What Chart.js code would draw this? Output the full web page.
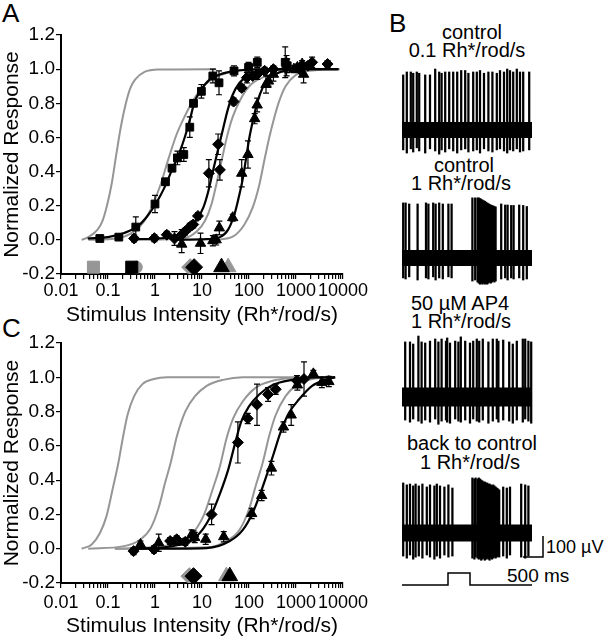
<!DOCTYPE html>
<html>
<head>
<meta charset="utf-8">
<script src="https://cdn.jsdelivr.net/npm/chart.js@4.4.1/dist/chart.umd.min.js"></script>
<style>
html, body { margin: 0; padding: 0; background: #fff; }
body { width: 605px; height: 639px; position: relative; overflow: hidden; font-family: 'Liberation Sans', Arial, sans-serif; color: #000; }
canvas { position: absolute; }
.t { position: absolute; font-size: 20px; line-height: 1; white-space: nowrap; transform: translate(-50%, -50%); }
.l { position: absolute; line-height: 1; white-space: nowrap; }
.lbl { position: absolute; font-size: 26px; line-height: 1; }
</style>
</head>
<body>
<div class="lbl" style="left:2px;top:0px">A</div>
<div class="lbl" style="left:389px;top:10px">B</div>
<div class="lbl" style="left:2px;top:315px">C</div>

<div class="t" style="left:472px;top:32px">control</div>
<div class="t" style="left:467px;top:50px">0.1 Rh*/rod/s</div>
<div class="t" style="left:464px;top:165px">control</div>
<div class="t" style="left:461px;top:183px">1 Rh*/rod/s</div>
<div class="t" style="left:460px;top:303px">50 µM AP4</div>
<div class="t" style="left:461px;top:321px">1 Rh*/rod/s</div>
<div class="t" style="left:472px;top:443px">back to control</div>
<div class="t" style="left:470px;top:462px">1 Rh*/rod/s</div>
<div class="l" style="left:546px;top:538px;font-size:18px">100 µV</div>
<div class="l" style="left:507px;top:566px;font-size:19px">500 ms</div>

<canvas id="chartA" width="380" height="330" style="left:0;top:0"></canvas>
<canvas id="chartC" width="380" height="319" style="left:0;top:320px"></canvas>
<canvas id="trace1" width="213" height="100" style="left:392px;top:60px"></canvas>
<canvas id="trace2" width="213" height="100" style="left:392px;top:188px"></canvas>
<canvas id="trace3" width="213" height="100" style="left:392px;top:327px"></canvas>
<canvas id="trace4" width="213" height="100" style="left:392px;top:463px"></canvas>
<canvas id="stim" width="213" height="25" style="left:392px;top:565px"></canvas>

<script>
// axis labels
const xTickLabels = ['0.01', '0.1', '1', '10', '100', '1000', '10000'];
const yTickLabels = ['-0.2', '0.0', '0.2', '0.4', '0.6', '0.8', '1.0', '1.2'];

// ---- panel A : data points (mean, error) ----
const aSqX = [0.067, 0.17, 0.39, 1.0, 1.67, 2.3, 3.0, 4.1, 5.5, 6.6, 9.7, 17, 23, 48, 98, 150, 590, 650];
const aSqY = [0.008, 0.016, 0.075, 0.21, 0.34, 0.42, 0.48, 0.50, 0.66, 0.80, 0.87, 0.96, 0.92, 0.99, 1.01, 1.04, 1.04, 1.02];
const aSqErr = [0.01, 0.01, 0.06, 0.05, 0.02, 0.02, 0.04, 0.04, 0.06, 0.02, 0.04, 0.04, 0.07, 0.03, 0.03, 0.03, 0.09, 0.04];

const aDmX = [0.36, 0.97, 1.78, 2.6, 3.7, 4.3, 5.5, 6.5, 8.2, 14, 22, 24, 47, 70, 90, 120, 150, 215, 330, 1200, 1800, 2200, 4700];
const aDmY = [0.008, 0.01, 0.03, 0.008, 0.03, 0.047, 0.076, 0.09, 0.14, 0.39, 0.56, 0.41, 0.81, 0.89, 0.95, 0.96, 0.97, 0.99, 1.0, 1.0, 1.02, 1.04, 1.03];
const aDmErr = [0.02, 0.02, 0.02, 0.04, 0.03, 0.02, 0.02, 0.02, 0.02, 0.08, 0.06, 0.06, 0.02, 0.02, 0.03, 0.02, 0.03, 0.02, 0.02, 0.02, 0.02, 0.03, 0.02];

const aTrX = [3.7, 9.3, 17, 20, 23.4, 45, 70, 95, 132, 149, 230, 260, 330, 630, 900, 1070, 1350, 1450];
const aTrY = [-0.025, -0.02, -0.005, 0.0, 0.07, 0.13, 0.39, 0.50, 0.71, 0.79, 0.91, 0.93, 0.97, 1.02, 1.0, 1.01, 1.03, 0.97];
const aTrErr = [0.05, 0.06, 0.03, 0.03, 0.04, 0.02, 0.08, 0.08, 0.03, 0.04, 0.05, 0.03, 0.04, 0.06, 0.02, 0.02, 0.02, 0.05];

// ---- panel A : fitted curves ----
const aGray1X = [0.0275, 0.038, 0.060, 0.076, 0.095, 0.12, 0.15, 0.19, 0.24, 0.30, 0.38, 0.6, 1.2, 20];
const aGray1Y = [0.0, 0.016, 0.06, 0.11, 0.20, 0.33, 0.5, 0.67, 0.80, 0.89, 0.94, 0.984, 0.998, 1.0];
const aGray2X = [0.038, 0.16, 0.36, 0.59, 0.88, 1.3, 1.96, 2.9, 4.4, 6.6, 10.7, 20, 46, 140];
const aGray2Y = [0, 0.01, 0.05, 0.11, 0.20, 0.32, 0.48, 0.62, 0.73, 0.82, 0.90, 0.955, 0.985, 1.0];
const aGray3X = [0.36, 4.1, 7.8, 11.5, 16, 20, 26, 33, 45, 68, 110, 210, 510, 1860];
const aGray3Y = [0, 0.01, 0.05, 0.11, 0.21, 0.32, 0.46, 0.59, 0.72, 0.83, 0.91, 0.955, 0.985, 1.0];
const aGray4X = [20, 46, 80, 120, 165, 210, 270, 340, 435, 600, 980, 1860, 8500];
const aGray4Y = [0, 0.02, 0.09, 0.19, 0.32, 0.46, 0.60, 0.71, 0.81, 0.90, 0.965, 0.99, 1.0];
const aFitSqX = [0.037, 0.1, 0.22, 0.43, 0.69, 1.03, 1.55, 2.3, 3.2, 4.4, 5.6, 6.8, 9.1, 14.7, 28, 74, 1000];
const aFitSqY = [0.008, 0.016, 0.04, 0.08, 0.14, 0.21, 0.30, 0.41, 0.50, 0.61, 0.71, 0.80, 0.87, 0.94, 0.975, 0.995, 1.0];
const aFitDmX = [0.36, 1.1, 2.5, 4.8, 7.8, 10.7, 13.5, 17, 22, 28, 36, 45, 63, 100, 230, 700, 8000];
const aFitDmY = [0.004, 0.008, 0.02, 0.06, 0.12, 0.19, 0.28, 0.40, 0.53, 0.65, 0.77, 0.85, 0.92, 0.965, 0.99, 1.0, 1.0];
const aFitTrX = [2.5, 12.6, 24, 36, 49, 60, 74, 87, 102, 124, 152, 194, 270, 435, 980, 8000];
const aFitTrY = [0, 0.004, 0.016, 0.06, 0.15, 0.245, 0.36, 0.48, 0.60, 0.71, 0.81, 0.89, 0.945, 0.98, 1.0, 1.0];

// ---- panel C : data points ----
const cDmX = [0.35, 0.95, 2.1, 2.9, 4.4, 6.6, 16, 58, 94, 148, 255, 370, 1050, 1480];
const cDmY = [-0.014, -0.004, 0.045, 0.055, 0.04, 0.074, 0.20, 0.62, 0.76, 0.84, 0.90, 0.93, 0.98, 0.99];
const cDmErr = [0.02, 0.02, 0.02, 0.02, 0.02, 0.03, 0.06, 0.12, 0.03, 0.12, 0.04, 0.03, 0.03, 0.1];

const cTrX = [0.49, 1.2, 3.0, 6.0, 7.0, 12, 29, 114, 186, 300, 540, 790, 1070, 2340, 3550, 5000];
const cTrY = [0.025, 0.035, 0.04, 0.08, 0.065, 0.055, 0.07, 0.205, 0.31, 0.47, 0.71, 0.78, 0.955, 1.02, 0.97, 0.975];
const cTrErr = [0.02, 0.05, 0.02, 0.03, 0.03, 0.03, 0.03, 0.03, 0.03, 0.04, 0.03, 0.06, 0.03, 0.02, 0.03, 0.03];

// ---- panel C : curves ----
const cGray1X = [0.0275, 0.045, 0.067, 0.093, 0.126, 0.166, 0.205, 0.26, 0.36, 0.54, 0.95, 1.8, 24];
const cGray1Y = [0, 0.025, 0.09, 0.19, 0.35, 0.5, 0.64, 0.78, 0.89, 0.96, 0.99, 1.0, 1.0];
const cGray2X = [0.038, 0.22, 0.5, 0.81, 1.2, 1.66, 2.15, 2.95, 4.4, 7.1, 12.6, 28, 74, 6800];
const cGray2Y = [0, 0.015, 0.055, 0.12, 0.24, 0.39, 0.5, 0.66, 0.80, 0.89, 0.95, 0.985, 1.0, 1.0];
const cGray3X = [0.14, 2.5, 5.6, 10.7, 17, 24, 33, 46, 74, 140, 320, 980];
const cGray3Y = [0, 0.025, 0.074, 0.19, 0.35, 0.48, 0.64, 0.76, 0.86, 0.94, 0.98, 1.0];
const cGray4X = [0.14, 12.6, 33, 63, 100, 140, 195, 270, 370, 600, 980, 2200, 6800];
const cGray4Y = [0, 0.008, 0.045, 0.11, 0.23, 0.37, 0.50, 0.66, 0.78, 0.89, 0.95, 0.99, 1.0];
const cFitDmX = [0.36, 2.5, 7.8, 14.7, 24, 36, 49, 68, 100, 165, 320, 830, 2600, 6800];
const cFitDmY = [0, 0.016, 0.074, 0.18, 0.32, 0.46, 0.60, 0.74, 0.83, 0.90, 0.955, 0.985, 1.0, 1.0];
const cFitTrX = [0.36, 12.6, 39, 74, 120, 178, 245, 340, 470, 700, 1150, 2200, 4200, 6800];
const cFitTrY = [0, 0.004, 0.045, 0.11, 0.21, 0.33, 0.44, 0.56, 0.68, 0.79, 0.87, 0.95, 0.985, 1.0];

// ---- sensitivity markers along the bottom (x positions) ----
const markY = -0.16;
const aMarks = { graySq: 0.049, blackSq: 0.32, grayDot: 0.40, grayDm: 5.6, blackDm: 6.8, blackTr: 26, grayTr: 36 };
const cMarks = { grayDm: 5.4, blackDm: 6.6, grayTr: 33, blackTr: 39 };

// ---- panel B : spike recordings (time s, peak/trough µV) ----
const traceEnd = 3.25;
const t1Times = [0.03,0.12,0.22,0.28,0.37,0.43,0.58,0.70,0.83,0.93,0.99,1.08,1.18,1.28,1.38,1.48,1.58,1.66,1.78,1.87,1.95,2.05,2.16,2.26,2.37,2.45,2.55,2.63,2.70,2.78,2.87,2.95,3.03,3.18];
const t1Tops = [262,276,276,270,276,270,262,262,290,276,270,276,276,276,276,283,283,270,276,276,283,270,276,276,270,283,276,290,283,276,290,276,276,276];
const t1Lows = [-95,-110,-90,-105,-85,-100,-110,-90,-100,-115,-95,-105,-90,-100,-110,-95,-90,-105,-100,-95,-110,-90,-100,-105,-95,-90,-100,-110,-95,-100,-90,-105,-100,-95];

const t2Times = [0.03,0.09,0.18,0.39,0.60,0.66,0.78,0.84,0.93,1.02,1.16,1.24,1.76,1.83,1.89,1.92,1.95,1.98,2.01,2.04,2.07,2.10,2.13,2.16,2.19,2.22,2.25,2.28,2.31,2.34,2.48,2.58,2.64,2.73,2.79,2.93,3.03,3.12];
const t2Tops = [262,262,257,257,262,257,262,257,262,257,257,257,286,286,286,286,283,280,276,273,270,266,262,259,255,252,250,248,245,243,257,252,252,250,250,252,250,245];
const t2Lows = [-95,-100,-90,-105,-95,-100,-90,-105,-95,-100,-90,-95,-110,-105,-115,-120,-125,-120,-125,-120,-125,-120,-125,-120,-115,-120,-115,-110,-115,-110,-100,-95,-105,-95,-100,-95,-105,-100];

const t3Times = [0.08,0.20,0.28,0.41,0.49,0.58,0.70,0.83,0.91,0.99,1.10,1.13,1.20,1.33,1.41,1.47,1.58,1.70,1.78,1.87,1.93,2.02,2.16,2.27,2.37,2.41,2.53,2.68,2.77,2.87,3.02,3.08,3.16,3.23];
const t3Tops = [262,262,252,290,262,257,266,276,262,276,266,281,257,266,262,286,266,257,266,276,266,276,262,276,276,266,271,262,252,266,276,276,266,262];
const t3Lows = [-110,-120,-105,-115,-125,-110,-120,-105,-130,-115,-110,-120,-125,-105,-115,-120,-110,-125,-105,-115,-120,-110,-125,-115,-105,-120,-110,-115,-125,-110,-120,-105,-115,-125];

const t4Times = [0.03,0.12,0.20,0.28,0.34,0.42,0.51,0.62,0.70,0.81,0.87,0.95,1.06,1.16,1.26,1.76,1.81,1.84,1.89,1.92,1.95,1.98,2.01,2.04,2.07,2.10,2.13,2.16,2.19,2.22,2.25,2.28,2.31,2.34,2.37,2.40,2.43,2.53,2.62,2.70,2.98,3.08,3.16];
const t4Tops = [238,229,233,224,233,224,233,219,229,224,233,224,219,229,214,262,257,262,257,262,257,252,248,243,243,238,238,233,233,229,224,229,224,219,214,210,205,219,214,219,233,229,224];
const t4Lows = [-110,-120,-105,-125,-115,-110,-120,-105,-115,-125,-110,-120,-105,-115,-110,-120,-125,-115,-120,-125,-120,-130,-125,-120,-130,-125,-120,-125,-130,-120,-125,-120,-115,-120,-115,-110,-115,-110,-120,-105,-115,-120,-110];

// light stimulus (time s, on/off)
const stimT = [0, 1.15, 1.15, 1.7, 1.7, traceEnd];
const stimV = [0, 0, 1, 1, 0, 0];

// scale bars
const barUV = 100;
const barSec = 0.5;

const GRAY = '#969696';
Chart.defaults.font.family = "'Liberation Sans', Arial, sans-serif";
Chart.defaults.color = '#000';
Chart.defaults.animation = false;

function pts(xs, ys) {
    return xs.map((x, i) => ({ x: x, y: ys[i] }));
}

function fitLine(xs, ys, color, width) {
    return {
        data: pts(xs, ys), showLine: true, borderColor: color, borderWidth: width,
        pointRadius: 0, cubicInterpolationMode: 'monotone', order: 3
    };
}

function dataSet(xs, ys, errs, style, radius) {
    return {
        data: pts(xs, ys), showLine: false, pointStyle: style, pointRadius: radius,
        backgroundColor: '#000', borderColor: '#000', borderWidth: 1, errors: errs, order: 2
    };
}

function bottomMark(x, style, color, radius, order) {
    return {
        data: [{ x: x, y: markY }], showLine: false, pointStyle: style, pointRadius: radius,
        backgroundColor: color, borderColor: color, borderWidth: 1, order: order
    };
}

// draws the vertical error bars with caps
const errorBarPlugin = {
    id: 'errorBars',
    afterDatasetsDraw(chart) {
        const ctx = chart.ctx;
        const xs = chart.scales.x, ys = chart.scales.y;
        ctx.save();
        ctx.strokeStyle = '#000';
        ctx.lineWidth = 1.2;
        chart.data.datasets.forEach(ds => {
            if (!ds.errors) return;
            ds.data.forEach((p, i) => {
                const e = ds.errors[i];
                if (!e) return;
                const px = xs.getPixelForValue(p.x);
                const hi = ys.getPixelForValue(p.y + e);
                const lo = ys.getPixelForValue(p.y - e);
                ctx.beginPath();
                ctx.moveTo(px, hi); ctx.lineTo(px, lo);
                ctx.moveTo(px - 3, hi); ctx.lineTo(px + 3, hi);
                ctx.moveTo(px - 3, lo); ctx.lineTo(px + 3, lo);
                ctx.stroke();
            });
        });
        ctx.restore();
    }
};

function panelOptions(padTop, xHeight, xTickPad, titlePad) {
    return {
        responsive: false,
        layout: { autoPadding: false, padding: { top: padTop, right: 37, left: 0, bottom: 0 } },
        plugins: { legend: { display: false }, tooltip: { enabled: false } },
        scales: {
            x: {
                type: 'logarithmic', min: 0.01, max: 10000,
                afterBuildTicks: scale => {
                    const t = [];
                    for (let e = -2; e <= 4; e++) {
                        for (let m = 1; m <= 9; m++) {
                            const v = m * Math.pow(10, e);
                            if (v <= 10000.0001) t.push({ value: v });
                        }
                    }
                    scale.ticks = t;
                },
                afterFit: scale => {
                    scale.height = xHeight;
                    scale.paddingLeft = 0;
                    scale.paddingRight = 0;
                },
                ticks: {
                    autoSkip: false, maxRotation: 0, minRotation: 0, padding: xTickPad,
                    font: { size: 18 },
                    callback: v => {
                        const l = Math.log10(v);
                        return Math.abs(l - Math.round(l)) < 1e-6 ? xTickLabels[Math.round(l) + 2] : '';
                    }
                },
                grid: { drawOnChartArea: false, drawTicks: true, tickLength: 5, color: '#000', lineWidth: 1.2 },
                border: { display: true, color: '#000', width: 2 },
                title: { display: true, text: 'Stimulus Intensity (Rh*/rod/s)', font: { size: 21 }, padding: { top: 0, bottom: titlePad } }
            },
            y: {
                min: -0.2, max: 1.2,
                afterFit: scale => {
                    scale.width = 61;
                    scale.paddingTop = 0;
                    scale.paddingBottom = 0;
                },
                ticks: {
                    stepSize: 0.1, padding: 1, font: { size: 19 },
                    callback: v => {
                        const k = Math.round(v * 10);
                        return k % 2 === 0 ? yTickLabels[(k + 2) / 2] : '';
                    }
                },
                grid: { drawOnChartArea: false, drawTicks: true, tickLength: 5, color: '#000', lineWidth: 1.2 },
                border: { display: true, color: '#000', width: 2 },
                title: { display: true, text: 'Normalized Response', font: { size: 21 }, padding: { top: 0, bottom: 0 } }
            }
        }
    };
}

new Chart(document.getElementById('chartA'), {
    type: 'scatter',
    data: {
        datasets: [
            bottomMark(aMarks.blackSq, 'rect', '#000', 8.5, 0),
            bottomMark(aMarks.blackDm, 'rectRot', '#000', 8.5, 0),
            bottomMark(aMarks.blackTr, 'triangle', '#000', 9, 0),
            bottomMark(aMarks.graySq, 'rect', GRAY, 8.5, 1),
            bottomMark(aMarks.grayDot, 'circle', GRAY, 6, 1),
            bottomMark(aMarks.grayDm, 'rectRot', GRAY, 8.5, 1),
            bottomMark(aMarks.grayTr, 'triangle', GRAY, 9, 1),
            dataSet(aSqX, aSqY, aSqErr, 'rect', 5.5),
            dataSet(aDmX, aDmY, aDmErr, 'rectRot', 5.5),
            dataSet(aTrX, aTrY, aTrErr, 'triangle', 6),
            fitLine(aFitSqX, aFitSqY, '#000', 2.2),
            fitLine(aFitDmX, aFitDmY, '#000', 2.2),
            fitLine(aFitTrX, aFitTrY, '#000', 2.2),
            fitLine(aGray1X, aGray1Y, GRAY, 2),
            fitLine(aGray2X, aGray2Y, GRAY, 2),
            fitLine(aGray3X, aGray3Y, GRAY, 2),
            fitLine(aGray4X, aGray4Y, GRAY, 2)
        ]
    },
    options: panelOptions(35, 56, 1, 2),
    plugins: [errorBarPlugin]
});

new Chart(document.getElementById('chartC'), {
    type: 'scatter',
    data: {
        datasets: [
            bottomMark(cMarks.blackDm, 'rectRot', '#000', 8.5, 0),
            bottomMark(cMarks.blackTr, 'triangle', '#000', 9, 0),
            bottomMark(cMarks.grayDm, 'rectRot', GRAY, 8.5, 1),
            bottomMark(cMarks.grayTr, 'triangle', GRAY, 9, 1),
            dataSet(cDmX, cDmY, cDmErr, 'rectRot', 5.5),
            dataSet(cTrX, cTrY, cTrErr, 'triangle', 6),
            fitLine(cFitDmX, cFitDmY, '#000', 2.2),
            fitLine(cFitTrX, cFitTrY, '#000', 2.2),
            fitLine(cGray1X, cGray1Y, GRAY, 2),
            fitLine(cGray2X, cGray2Y, GRAY, 2),
            fitLine(cGray3X, cGray3Y, GRAY, 2),
            fitLine(cGray4X, cGray4Y, GRAY, 2)
        ]
    },
    options: panelOptions(23, 56, 4, 0),
    plugins: [errorBarPlugin]
});

// spike traces: one floating bar per spike plus a thick baseline for the noise
function traceOptions(yMin, yMax) {
    return {
        responsive: false,
        layout: { padding: 0 },
        plugins: { legend: { display: false }, tooltip: { enabled: false } },
        scales: {
            x: { type: 'linear', display: false, min: -0.25, max: 5.075, offset: false },
            y: { display: false, min: yMin, max: yMax }
        }
    };
}

function drawTrace(id, times, tops, lows, band, extra) {
    const datasets = [
        {
            type: 'bar',
            data: times.map((t, i) => ({ x: t, y: [lows[i] ?? -100, tops[i] ?? 260] })),
            backgroundColor: '#000', barThickness: 1.6, order: 1
        },
        {
            type: 'line',
            data: [{ x: 0, y: 0 }, { x: traceEnd, y: 0 }],
            borderColor: '#000', borderWidth: band, borderCapStyle: 'butt', pointRadius: 0, order: 2
        }
    ];
    if (extra) datasets.push(extra);
    new Chart(document.getElementById(id), {
        type: 'bar',
        data: { datasets: datasets },
        options: traceOptions(-143, 333)
    });
}

drawTrace('trace1', t1Times, t1Tops, t1Lows, 16);
drawTrace('trace2', t2Times, t2Tops, t2Lows, 16);
drawTrace('trace3', t3Times, t3Tops, t3Lows, 19);
drawTrace('trace4', t4Times, t4Tops, t4Lows, 17, {
    type: 'line',
    data: [
        { x: traceEnd + 0.275, y: -14 },
        { x: traceEnd + 0.275, y: -14 - barUV },
        { x: traceEnd + 0.275 - barSec, y: -14 - barUV }
    ],
    borderColor: '#000', borderWidth: 1.5, pointRadius: 0, order: 0
});

new Chart(document.getElementById('stim'), {
    type: 'line',
    data: {
        datasets: [{
            data: pts(stimT, stimV), borderColor: '#000', borderWidth: 1.5, pointRadius: 0
        }]
    },
    options: {
        responsive: false,
        layout: { padding: 0 },
        plugins: { legend: { display: false }, tooltip: { enabled: false } },
        scales: {
            x: { type: 'linear', display: false, min: -0.25, max: 5.075 },
            y: { display: false, min: -0.417, max: 1.667 }
        }
    }
});
</script>
</body>
</html>
